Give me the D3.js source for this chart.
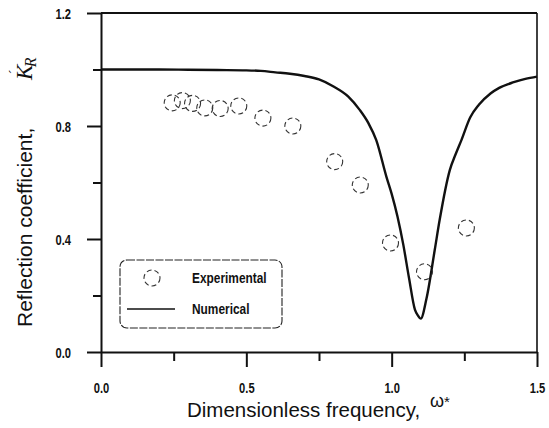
<!DOCTYPE html>
<html>
<head>
<meta charset="utf-8">
<script src="https://cdn.jsdelivr.net/npm/d3@7"></script>
<style>
  html, body { margin: 0; padding: 0; background: #fff; }
  svg { display: block; }
</style>
</head>
<body>
<svg id="chart" width="549" height="428"></svg>
<script>
// ---- data ----
const expFreq = [0.245, 0.28, 0.315, 0.357, 0.41, 0.474, 0.557, 0.66, 0.804, 0.892, 0.996, 1.113, 1.257];
const expRefl = [0.882, 0.89, 0.88, 0.864, 0.862, 0.871, 0.828, 0.80, 0.674, 0.591, 0.386, 0.284, 0.439];

const numFreq = [0.0, 0.1, 0.2, 0.3, 0.4, 0.5, 0.55, 0.6, 0.65, 0.7, 0.75, 0.8, 0.85, 0.89, 0.92, 0.947, 0.982, 1.0, 1.02, 1.04, 1.06, 1.08, 1.09, 1.1, 1.12, 1.148, 1.165, 1.2, 1.22, 1.24, 1.27, 1.3, 1.34, 1.37, 1.42, 1.46, 1.5];
const numRefl = [1.0, 1.0, 1.0, 0.999, 0.998, 0.997, 0.995, 0.99, 0.985, 0.977, 0.965, 0.94, 0.905, 0.857, 0.81, 0.75, 0.62, 0.56, 0.48, 0.38, 0.26, 0.15, 0.13, 0.118, 0.19, 0.36, 0.467, 0.644, 0.70, 0.75, 0.83, 0.875, 0.915, 0.935, 0.955, 0.967, 0.975];

const xMajorTicks = [0.0, 0.5, 1.0, 1.5];
const xMinorTicks = [0.25, 0.75, 1.25];
const yMajorTicks = [0.0, 0.4, 0.8, 1.2];
const yMinorTicks = [0.2, 0.6, 1.0];

const xTitle = "Dimensionless frequency,";
const yTitle = "Reflection coefficient,";
const legendLabels = ["Experimental", "Numerical"];

// ---- layout ----
const svg = d3.select("#chart");
const L = 101, R = 537, T = 13, B = 352;
const x = d3.scaleLinear().domain([0, 1.5]).range([L, R]);
const y = d3.scaleLinear().domain([0, 1.2]).range([B, T]);

const tickFont = "'Liberation Sans',Arial,sans-serif";
const titleFont = "'Liberation Sans',Arial,sans-serif";
const ink = "#111";
const narrow = 0.72;

// frame (top & right)
svg.append("line").attr("x1", L).attr("x2", R).attr("y1", T).attr("y2", T)
  .attr("stroke", ink).attr("stroke-width", 1.8);
svg.append("line").attr("x1", R).attr("x2", R).attr("y1", T).attr("y2", B)
  .attr("stroke", ink).attr("stroke-width", 1.6);

// y axis
const yAxis = svg.append("g").attr("transform", `translate(${L},0)`)
  .call(d3.axisLeft(y).tickValues(yMajorTicks).tickSize(14).tickSizeOuter(0)
    .tickPadding(16).tickFormat(d3.format(".1f")));
svg.append("g").attr("transform", `translate(${L},0)`)
  .call(d3.axisLeft(y).tickValues(yMinorTicks).tickSize(8).tickSizeOuter(0).tickFormat(""))
  .select(".domain").remove();

// x axis
const xAxis = svg.append("g").attr("transform", `translate(0,${B})`)
  .call(d3.axisBottom(x).tickValues(xMajorTicks).tickSize(15).tickSizeOuter(0)
    .tickPadding(16).tickFormat(d3.format(".1f")));
svg.append("g").attr("transform", `translate(0,${B})`)
  .call(d3.axisBottom(x).tickValues(xMinorTicks).tickSize(9).tickSizeOuter(0).tickFormat(""))
  .select(".domain").remove();

svg.selectAll(".domain").attr("stroke", ink).attr("stroke-width", 2);
svg.selectAll(".tick line").attr("stroke", ink).attr("stroke-width", 2);
svg.selectAll(".tick text")
  .attr("fill", ink)
  .style("font-family", tickFont)
  .style("font-weight", "bold")
  .style("font-size", "15.5px")
  .attr("transform", `scale(${narrow},1)`);
yAxis.selectAll(".tick text").attr("x", -30 / narrow).attr("dy", "0.36em");
xAxis.selectAll(".tick text").attr("x", 0).attr("y", 41).attr("dy", "0");

// numerical curve
const line = d3.line()
  .x((d, i) => x(numFreq[i]))
  .y((d, i) => y(numRefl[i]))
  .curve(d3.curveMonotoneX);
svg.append("path").datum(numRefl)
  .attr("d", line)
  .attr("fill", "none")
  .attr("stroke", ink)
  .attr("stroke-width", 2.4)
  .attr("stroke-linejoin", "round");

// experimental points
svg.append("g").selectAll("circle")
  .data(expFreq)
  .join("circle")
  .attr("cx", (d) => x(d))
  .attr("cy", (d, i) => y(expRefl[i]))
  .attr("r", 8)
  .attr("fill", "none")
  .attr("stroke", "#333")
  .attr("stroke-width", 1.1)
  .attr("stroke-dasharray", "5,3");

// legend
const lg = svg.append("g");
lg.append("rect").attr("x", 120).attr("y", 260).attr("width", 162).attr("height", 68)
  .attr("rx", 7).attr("fill", "none").attr("stroke", "#222").attr("stroke-width", 1.1)
  .attr("stroke-dasharray", "8,1.5");
lg.append("circle").attr("cx", 152).attr("cy", 278).attr("r", 8)
  .attr("fill", "none").attr("stroke", "#333").attr("stroke-width", 1.1)
  .attr("stroke-dasharray", "5,3");
lg.append("line").attr("x1", 127).attr("x2", 175).attr("y1", 309).attr("y2", 309)
  .attr("stroke", ink).attr("stroke-width", 1.4);
lg.selectAll("text.lt").data(legendLabels).join("text")
  .attr("class", "lt")
  .attr("x", 192 / 0.82)
  .attr("y", (d, i) => 283 + i * 31)
  .attr("transform", "scale(0.82,1)")
  .attr("fill", ink)
  .style("font-family", tickFont)
  .style("font-weight", "bold")
  .style("font-size", "14.5px")
  .text((d) => d);

// x title
const xt = svg.append("text").attr("x", 187).attr("y", 417)
  .attr("fill", ink).style("font-family", titleFont).style("font-size", "20.5px");
xt.append("tspan").text(xTitle);
svg.append("text").attr("x", 430).attr("y", 407)
  .attr("fill", ink).style("font-family", titleFont)
  .style("font-size", "18px").text("ω");
svg.append("text").attr("x", 444).attr("y", 407)
  .attr("fill", ink).style("font-family", titleFont).style("font-size", "15px").text("*");

// y title
const yt = svg.append("text")
  .attr("transform", "translate(32,327) rotate(-90)")
  .attr("fill", ink).style("font-family", titleFont).style("font-size", "21px");
yt.append("tspan").text(yTitle);
const ys = svg.append("text")
  .attr("transform", "translate(32,80) rotate(-90)")
  .attr("fill", ink).style("font-family", "'Liberation Serif','Times New Roman',serif")
  .style("font-style", "italic").style("font-size", "23px");
ys.append("tspan").text("K");
ys.append("tspan").attr("dx", -10).attr("dy", -14).style("font-size", "13px").text("´");
ys.append("tspan").attr("dx", 3).attr("dy", 18).style("font-size", "16px").text("R");
</script>
</body>
</html>
